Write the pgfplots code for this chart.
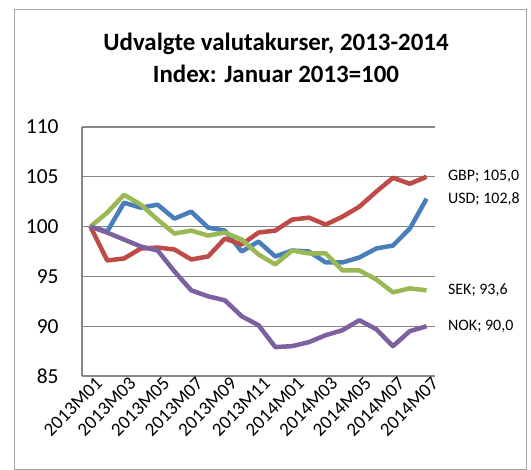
\documentclass[border=0pt]{standalone}
\usepackage{fontspec}
\setmainfont{Carlito}
\usepackage{pgfplots}
\pgfplotsset{compat=1.18}
\definecolor{usd}{HTML}{4A7EBB}
\definecolor{gbp}{HTML}{BE4B48}
\definecolor{sek}{HTML}{98B954}
\definecolor{nok}{HTML}{7D60A0}
\definecolor{gridgray}{HTML}{868686}
\definecolor{framegray}{HTML}{A6A6A6}

% index values, January 2013 = 100, month 0 = 2013M01
\pgfplotstableread{
m usd gbp sek nok
0 100.0 100.0 100.0 100.0
1 99.5 96.6 101.4 99.4
2 102.4 96.8 103.2 98.7
3 101.9 97.8 102.2 98.0
4 102.2 97.9 100.7 97.6
5 100.8 97.7 99.3 95.5
6 101.5 96.7 99.6 93.6
7 99.9 97.0 99.1 93.0
8 99.6 98.8 99.4 92.6
9 97.5 98.2 98.7 91.0
10 98.5 99.4 97.2 90.1
11 97.0 99.6 96.2 87.9
12 97.6 100.7 97.6 88.0
13 97.5 100.9 97.3 88.4
14 96.4 100.2 97.3 89.1
15 96.4 101.0 95.6 89.6
16 96.9 102.0 95.6 90.6
17 97.8 103.5 94.7 89.7
18 98.1 104.9 93.4 88.0
19 99.8 104.3 93.8 89.5
20 102.8 105.0 93.6 90.0
}\rates

\begin{document}
\begin{tikzpicture}
\path[use as bounding box] (-82bp,-94bp) rectangle (449bp,376bp);
\draw[framegray,line width=1bp] (-67bp,-93.5bp) rectangle (444bp,366bp);
\node[anchor=base,font=\fontsize{25}{30}\selectfont\bfseries] at (194bp,325bp) {Udvalgte valutakurser, 2013-2014};
\node[anchor=base,font=\fontsize{25}{30}\selectfont\bfseries] at (194bp,293bp) {Index: Januar 2013=100};
\begin{axis}[
  at={(0,0)},anchor=south west,
  scale only axis,width=353bp,height=249bp,
  xmin=-0.5,xmax=20.5,ymin=85,ymax=110,
  ytick={85,90,...,110},
  xtick={0,2,...,20},
  xticklabels={2013M01,2013M03,2013M05,2013M07,2013M09,2013M11,2014M01,2014M03,2014M05,2014M07,2014M07},
  axis x line*=bottom,axis y line*=left,
  axis line style={gridgray,line width=1.2bp,-},
  ymajorgrids,grid style={gridgray,line width=1.2bp},
  major tick length=0pt,
  y tick label style={font=\fontsize{21.5}{25}\selectfont,xshift=-20bp},
  x tick label style={font=\fontsize{19}{23}\selectfont,rotate=45,anchor=north east,inner sep=0bp,yshift=-3bp,xshift=3bp},
  /pgf/number format/assume math mode=true,
  clip=false,
  every axis plot/.append style={line width=4.5bp,line join=round,no marks},
]
\addplot[usd] table[x=m,y=usd] {\rates};
\addplot[gbp] table[x=m,y=gbp] {\rates};
\addplot[sek] table[x=m,y=sek] {\rates};
\addplot[nok] table[x=m,y=nok] {\rates};
\begin{scope}[every node/.style={anchor=west,font=\fontsize{16}{19}\selectfont,xshift=18bp}]
\node at (axis cs:20,105.0) {GBP; 105,0};
\node at (axis cs:20,102.8) {USD; 102,8};
\node at (axis cs:20,93.6) {SEK; 93,6};
\node at (axis cs:20,90.0) {NOK; 90,0};
\end{scope}
\end{axis}
\end{tikzpicture}
\end{document}
